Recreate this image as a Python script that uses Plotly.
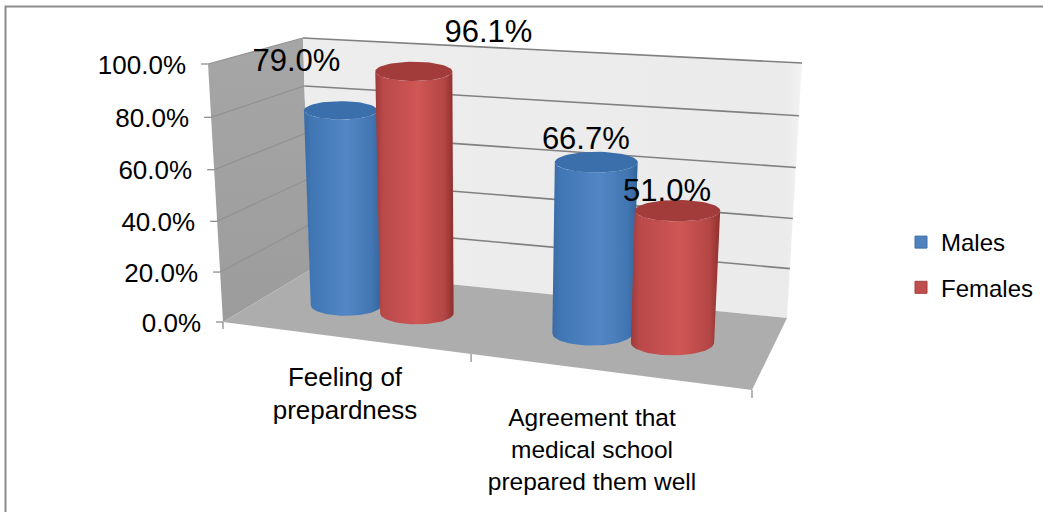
import numpy as np
import plotly.graph_objects as go

# Chart data
categories = ["Feeling of<br>prepardness", "Agreement that<br>medical school<br>prepared them well"]
series_names = ["Males", "Females"]
males = [79.0, 66.7]
females = [96.1, 51.0]
axis_ticks = [0, 20, 40, 60, 80, 100]

WIDTH, HEIGHT = 1043, 512

# Corners of the 3D plot box on the canvas, named front/back + left/right + bottom(0)/top(1)
BOX = {
    "fl0": (223, 322), "bl0": (310, 270), "br0": (787, 318), "fr0": (752, 390),
    "fl1": (208, 64), "bl1": (303, 38), "br1": (802, 63), "fr1": (767, 107),
}
CAT_PERSPECTIVE = 0.883
VAL_PERSPECTIVE = 0.96


def project(u, depth, value):
    """Map category position (0..2), depth (0 front..1 back), value (0..100) to the canvas."""
    t = u / 2
    s = CAT_PERSPECTIVE * t / (1 + (CAT_PERSPECTIVE - 1) * t)
    f = value / 100
    w = VAL_PERSPECTIVE * f / (1 + (VAL_PERSPECTIVE - 1) * f)
    out = []
    for i in (0, 1):
        low = (1 - depth) * ((1 - s) * BOX["fl0"][i] + s * BOX["fr0"][i]) + depth * ((1 - s) * BOX["bl0"][i] + s * BOX["br0"][i])
        high = (1 - depth) * ((1 - s) * BOX["fl1"][i] + s * BOX["fr1"][i]) + depth * ((1 - s) * BOX["bl1"][i] + s * BOX["br1"][i])
        out.append(low + w * (high - low))
    return out


def polygon(points, **style):
    xs = [p[0] for p in points]
    ys = [p[1] for p in points]
    return go.Scatter(x=xs + xs[:1], y=ys + ys[:1], mode="lines", fill="toself",
                      line=dict(width=0), hoverinfo="skip", showlegend=False, **style)


def segments(pairs, color, width):
    xs, ys = [], []
    for a, b in pairs:
        xs += [a[0], b[0], None]
        ys += [a[1], b[1], None]
    return go.Scatter(x=xs, y=ys, mode="lines", line=dict(color=color, width=width),
                      hoverinfo="skip", showlegend=False)


def text_trace(xs, ys, labels, size, position):
    return go.Scatter(x=xs, y=ys, text=labels, mode="text", textposition=position,
                      textfont=dict(family="Liberation Sans", size=size, color="#000000"),
                      hoverinfo="skip", showlegend=False, cliponaxis=False)


def cylinder(u, value, stops, cap_color):
    """Side wall and top cap of one cylinder."""
    radius_u = 0.153
    depth = 0.5
    bl, br = project(u - radius_u, depth, 0), project(u + radius_u, depth, 0)
    tl, tr = project(u - radius_u, depth, value), project(u + radius_u, depth, value)
    bx, by = (bl[0] + br[0]) / 2, (bl[1] + br[1]) / 2
    tx, ty = (tl[0] + tr[0]) / 2, (tl[1] + tr[1]) / 2
    brx, trx = (br[0] - bl[0]) / 2, (tr[0] - tl[0]) / 2
    bry, try_ = brx * 0.3, trx * 0.25
    angles = np.linspace(np.pi, 0, 41)
    base_arc = [(bx + brx * np.cos(a), by + bry * np.sin(a)) for a in angles]
    top_arc = [(tx + trx * np.cos(a), ty + try_ * np.sin(a)) for a in angles[::-1]]
    side = polygon(base_arc + top_arc,
                   fillgradient=dict(type="horizontal", colorscale=stops))
    ring = np.linspace(0, 2 * np.pi, 61)
    cap = polygon([(tx + trx * np.cos(a), ty + try_ * np.sin(a)) for a in ring[:-1]],
                  fillcolor=cap_color)
    return [side, cap]


BLUE_STOPS = [[0, "#3a6ca6"], [0.1, "#4177b4"], [0.55, "#5286c6"], [0.88, "#4276b2"], [1, "#33639a"]]
RED_STOPS = [[0, "#a03a38"], [0.1, "#ba494a"], [0.55, "#cf5755"], [0.88, "#b34644"], [1, "#8f2f2d"]]
BLUE_CAP = "#3a6fab"
RED_CAP = "#a23c3a"

traces = []

# Walls and floor of the box
traces.append(polygon([project(0, 0, 0), project(0, 1, 0), project(0, 1, 100), project(0, 0, 100)],
                      fillgradient=dict(type="vertical", colorscale=[[0, "#9c9c9c"], [1, "#a6a6a6"]])))
traces.append(polygon([project(0, 1, 0), project(2, 1, 0), project(2, 1, 100), project(0, 1, 100)],
                      fillgradient=dict(type="horizontal", colorscale=[[0, "#ededed"], [0.97, "#ebebeb"], [1, "#f3f3f3"]])))
traces.append(polygon([project(0, 0, 0), project(0, 1, 0), project(2, 1, 0), project(2, 0, 0)],
                      fillcolor="#adadad"))

# Gridlines on the left and back walls
traces.append(segments([(project(0, 0, v), project(0, 1, v)) for v in axis_ticks[1:]], "#929292", 1.2))
traces.append(segments([(project(0, 1, v), project(2, 1, v)) for v in axis_ticks[1:]], "#808080", 1.6))

# Axis tick marks
y_tick_pairs = [(project(0, 0, v), [project(0, 0, v)[0] - 7, project(0, 0, v)[1]]) for v in axis_ticks]
y_tick_pairs.append((project(0, 0, 0), [project(0, 0, 0)[0], project(0, 0, 0)[1] + 7]))
x_tick_pairs = [(project(u, 0, 0), [project(u, 0, 0)[0], project(u, 0, 0)[1] + 8]) for u in (1, 2)]
traces.append(segments(y_tick_pairs + x_tick_pairs, "#868686", 1.2))

# Cylinders, left to right so that each one overlaps the previous
SERIES_OFFSET = 0.15
for i in range(len(categories)):
    traces += cylinder(i + 0.5 - SERIES_OFFSET, males[i], BLUE_STOPS, BLUE_CAP)
    traces += cylinder(i + 0.5 + SERIES_OFFSET, females[i], RED_STOPS, RED_CAP)

# Value axis labels follow the slanted front edge of the left wall
traces.append(text_trace([project(0, 0, v)[0] - 22 for v in axis_ticks],
                         [project(0, 0, v)[1] + 3 for v in axis_ticks],
                         [f"{v:.1f}%" for v in axis_ticks], 26, "middle left"))

# Category labels below the floor
traces.append(text_trace([345], [396], [categories[0]], 26, "middle center"))
traces.append(text_trace([592], [452], [categories[1]], 24.5, "middle center"))

# Data labels, offset from each cylinder's top
LABEL_OFFSETS = {("m", 0): (-44, -47), ("f", 0): (75, -37), ("m", 1): (-10, -21), ("f", 1): (-10, -17)}
lx, ly, lt = [], [], []
for i in range(len(categories)):
    for key, vals, sign in (("m", males, -1), ("f", females, 1)):
        px, py = project(i + 0.5 + sign * SERIES_OFFSET, 0.5, vals[i])
        dx, dy = LABEL_OFFSETS[(key, i)]
        lx.append(px + dx)
        ly.append(py + dy)
        lt.append(f"{vals[i]:.1f}%")
traces.append(text_trace(lx, ly, lt, 31, "middle center"))

# Legend entries
for name, fill, edge, group in zip(series_names, ["#4f81bd", "#c0504d"], ["#3f6ea6", "#a03f3c"], ["a", "b"]):
    traces.append(go.Scatter(x=[None], y=[None], mode="markers", name=name, legendgroup=group,
                             marker=dict(symbol="square", size=12, color=fill, line=dict(color=edge, width=1))))

fig = go.Figure(traces)
fig.update_layout(
    width=WIDTH, height=HEIGHT, autosize=False,
    margin=dict(l=0, r=0, t=0, b=0),
    paper_bgcolor="#ffffff", plot_bgcolor="#ffffff",
    xaxis=dict(range=[0, WIDTH], visible=False, fixedrange=True),
    yaxis=dict(range=[HEIGHT, 0], visible=False, fixedrange=True),
    legend=dict(x=901 / WIDTH, y=1 - 220 / HEIGHT, xanchor="left", yanchor="top",
                font=dict(family="Liberation Sans", size=24, color="#000000"),
                tracegroupgap=11, itemwidth=30, bgcolor="rgba(0,0,0,0)"),
    shapes=[dict(type="rect", xref="x", yref="y", x0=5.5, y0=6.5, x1=1060, y1=530,
                 line=dict(color="#8c8c8c", width=2), fillcolor="rgba(0,0,0,0)", layer="below")],
)
fig.write_html("out.html", config=dict(displayModeBar=False))
